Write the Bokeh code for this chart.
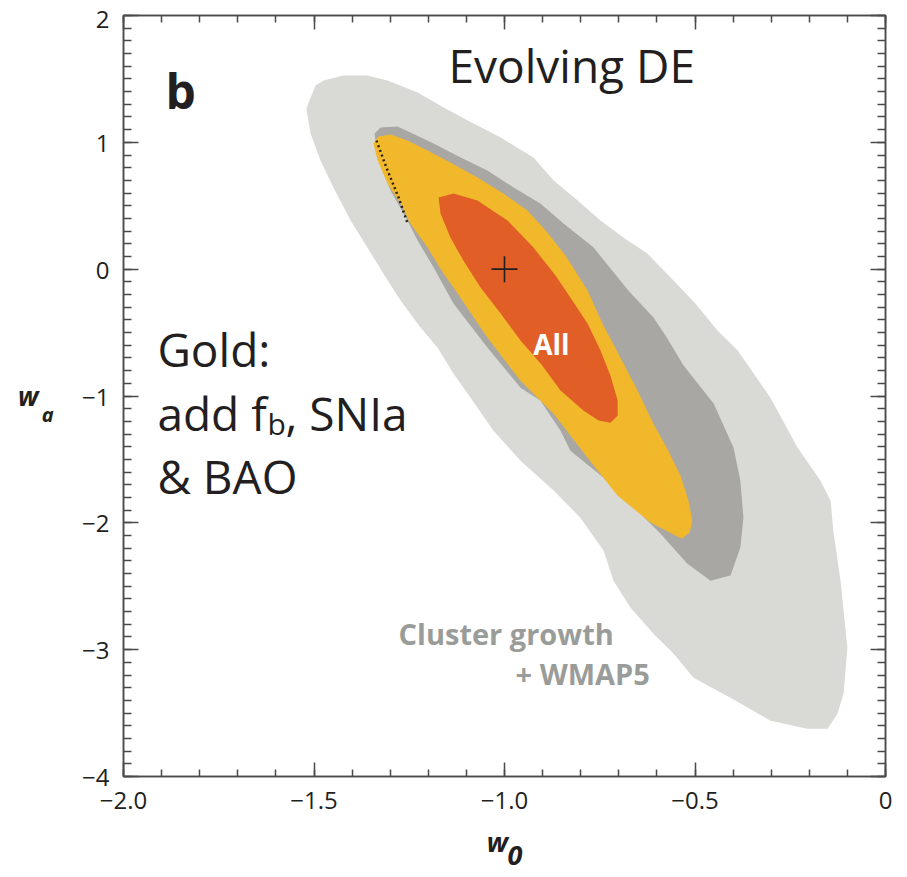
from bokeh.plotting import figure
from bokeh.models import Range1d, FixedTicker, LinearAxis, Label
from bokeh.embed import file_html
from bokeh.resources import INLINE
import numpy as np

# ---------------- data (w0, wa) ----------------
# Cluster growth + WMAP5, outer (95%) contour
cg95_w0 = [-1.520, -1.496, -1.475, -1.423, -1.360, -1.307, -1.228, -1.160, -1.081, -1.010,
           -0.924, -0.871, -0.808, -0.748, -0.688, -0.625, -0.564, -0.499, -0.441, -0.388,
           -0.346, -0.302, -0.231, -0.171, -0.144, -0.137, -0.118, -0.100, -0.110, -0.126,
           -0.152, -0.205, -0.302, -0.407, -0.504, -0.556, -0.609, -0.669, -0.714, -0.740,
           -0.801, -0.871, -0.958, -1.029, -1.089, -1.134, -1.176, -1.220, -1.273, -1.318,
           -1.360, -1.404, -1.449, -1.483, -1.509]
cg95_wa = [1.267, 1.448, 1.487, 1.527, 1.527, 1.487, 1.393, 1.274, 1.148, 1.038,
           0.880, 0.699, 0.541, 0.383, 0.249, 0.123, -0.066, -0.271, -0.484, -0.642,
           -0.823, -1.013, -1.407, -1.667, -1.825, -2.062, -2.456, -2.984, -3.347, -3.505,
           -3.623, -3.623, -3.560, -3.379, -3.221, -3.032, -2.874, -2.669, -2.456, -2.219,
           -1.959, -1.746, -1.510, -1.273, -1.013, -0.823, -0.618, -0.461, -0.248, -0.035,
           0.170, 0.383, 0.644, 0.856, 1.069]

# Cluster growth + WMAP5, inner (68%) contour
cg68_w0 = [-1.341, -1.325, -1.281, -1.247, -1.186, -1.115, -1.045, -0.976, -0.906, -0.845,
           -0.766, -0.675, -0.609, -0.577, -0.530, -0.451, -0.399, -0.381, -0.373, -0.381,
           -0.407, -0.459, -0.520, -0.591, -0.651, -0.740, -0.827, -0.853, -0.906, -0.958,
           -1.045, -1.134, -1.186, -1.228, -1.255, -1.299, -1.331]
cg68_wa = [1.069, 1.117, 1.125, 1.077, 0.991, 0.880, 0.778, 0.644, 0.517, 0.360,
           0.170, -0.169, -0.382, -0.524, -0.760, -1.060, -1.407, -1.667, -1.959, -2.196,
           -2.416, -2.456, -2.322, -2.085, -1.904, -1.644, -1.431, -1.273, -1.036, -0.934,
           -0.618, -0.271, 0.013, 0.226, 0.383, 0.620, 0.856]

# All data combined, outer (95%) contour
all95_w0 = [-1.344, -1.331, -1.299, -1.255, -1.202, -1.142, -1.071, -1.003, -0.940, -0.892,
            -0.840, -0.782, -0.743, -0.696, -0.651, -0.609, -0.570, -0.538, -0.517, -0.507,
            -0.514, -0.535, -0.617, -0.703, -0.782, -0.871, -0.958, -1.045, -1.123, -1.160,
            -1.202, -1.247, -1.273, -1.307, -1.333]
all95_wa = [0.991, 1.046, 1.062, 1.014, 0.935, 0.841, 0.722, 0.596, 0.462, 0.304,
            0.107, -0.169, -0.429, -0.697, -0.957, -1.218, -1.431, -1.628, -1.825, -1.983,
            -2.077, -2.125, -1.998, -1.786, -1.486, -1.139, -0.879, -0.539, -0.192, -0.035,
            0.170, 0.360, 0.517, 0.675, 0.856]

# All data combined, inner (68%) contour
all68_w0 = [-1.173, -1.134, -1.071, -0.992, -0.924, -0.866, -0.822, -0.782, -0.748, -0.722,
            -0.703, -0.703, -0.722, -0.753, -0.793, -0.853, -0.903, -0.958, -1.010, -1.063,
            -1.108, -1.142, -1.168]
all68_wa = [0.565, 0.596, 0.541, 0.383, 0.170, -0.050, -0.248, -0.429, -0.642, -0.839,
            -1.036, -1.155, -1.210, -1.194, -1.115, -0.957, -0.752, -0.563, -0.350, -0.145,
            0.068, 0.249, 0.438]

# dotted boundary near the upper tip
dot_w0 = [-1.336, -1.310, -1.278, -1.255]
dot_wa = [1.014, 0.801, 0.565, 0.367]

# fiducial cosmological constant point
fid_w0 = [-1.0]
fid_wa = [0.0]

x_ticks = [-2.0, -1.5, -1.0, -0.5, 0.0]
x_tick_labels = ["\u22122.0", "\u22121.5", "\u22121.0", "\u22120.5", "0"]
y_ticks = [2, 1, 0, -1, -2, -3, -4]
y_tick_labels = ["\n2", "1", "0", "\u22121", "\u22122", "\u22123", "\u22124"]
x_title = ("w", "0")   # w with subscript 0
y_title = ("w", "a")   # w with subscript a

# ---------------- style ----------------
C_LG = "#d9dad6"
C_DG = "#a8a7a3"
C_YEL = "#f2b82b"
C_ORA = "#e15e27"
C_TXT = "#231f20"
C_AX = "#4a4a4c"
C_GRAYTXT = "#9a9c99"
FONT = "Open Sans"
NB = "\u00a0"

p = figure(width=907, height=877, output_backend="svg", toolbar_location=None,
           x_range=Range1d(-2.0, 0.0), y_range=Range1d(-4.0, 2.0),
           x_axis_location=None, y_axis_location=None,
           min_border_left=123, min_border_right=22, min_border_top=15, min_border_bottom=101)
p.background_fill_color = "white"
p.border_fill_color = "white"
p.outline_line_color = C_AX
p.outline_line_width = 1.5
p.xgrid.visible = False
p.ygrid.visible = False

x_minor = [round(v, 1) for v in np.arange(-2.0, 0.001, 0.1)]
y_minor = [round(v, 1) for v in np.arange(-4.0, 2.001, 0.1)]
xt = FixedTicker(ticks=x_ticks, minor_ticks=x_minor)
yt = FixedTicker(ticks=y_ticks, minor_ticks=y_minor)


def style_axis(ax, major_len, minor_len, labels):
    ax.axis_line_color = C_AX
    ax.axis_line_width = 1.5
    ax.major_tick_line_color = C_AX
    ax.major_tick_line_width = 1.5
    ax.minor_tick_line_color = C_AX
    ax.minor_tick_line_width = 1.5
    ax.major_tick_in = major_len
    ax.major_tick_out = 0
    ax.minor_tick_in = minor_len
    ax.minor_tick_out = 0
    if labels:
        ax.major_label_text_font = FONT
        ax.major_label_text_font_size = "24px"
        ax.major_label_text_color = C_TXT
    else:
        ax.major_label_text_font_size = "0px"
        ax.major_label_text_color = None
        ax.major_label_standoff = 0


def title_axis(text, size, standoff, line_height, orientation=None):
    ax = LinearAxis(ticker=FixedTicker(ticks=[]), axis_label=text)
    ax.axis_line_color = None
    ax.major_tick_line_color = None
    ax.minor_tick_line_color = None
    ax.major_tick_in = 0
    ax.major_tick_out = 0
    ax.minor_tick_in = 0
    ax.minor_tick_out = 0
    ax.major_label_text_font_size = "0px"
    ax.major_label_standoff = 0
    ax.axis_label_text_font = "Noto Sans"
    ax.axis_label_text_font_size = size
    ax.axis_label_text_font_style = "bold italic"
    ax.axis_label_text_color = C_TXT
    ax.axis_label_text_line_height = line_height
    ax.axis_label_standoff = standoff
    if orientation is not None:
        ax.axis_label_orientation = orientation
    return ax


bottom = LinearAxis(ticker=xt, major_label_overrides=dict(zip(x_ticks, x_tick_labels)))
style_axis(bottom, 14, 7, True)
bottom.major_label_standoff = 15
top = LinearAxis(ticker=xt)
style_axis(top, 14, 7, False)
left = LinearAxis(ticker=yt, major_label_overrides=dict(zip(y_ticks, y_tick_labels)))
style_axis(left, 15, 8, True)
left.major_label_standoff = 14
left.major_label_text_line_height = 0.05
right = LinearAxis(ticker=yt)
style_axis(right, 15, 8, False)

p.add_layout(bottom, "below")
# w0 title: "w" then a lowered, shifted "0" on a tightly spaced second line
p.add_layout(title_axis(x_title[0] + NB + NB + "\n" + NB + NB + NB + x_title[1],
                        "27px", 11, 0.37), "below")
p.add_layout(top, "above")
p.add_layout(left, "left")
# wa title: subscript "a" nearest the axis, lowered via a blank first line
p.add_layout(title_axis(NB + "\n" + y_title[1], "20px", 26, 1.4, "horizontal"), "left")
p.add_layout(title_axis(y_title[0], "26px", 0, 1.0, "horizontal"), "left")
p.add_layout(right, "right")

# ---------------- contours ----------------
p.patch(cg95_w0, cg95_wa, fill_color=C_LG, line_color=None)
p.patch(cg68_w0, cg68_wa, fill_color=C_DG, line_color=None)
p.patch(all95_w0, all95_wa, fill_color=C_YEL, line_color=None)
p.patch(all68_w0, all68_wa, fill_color=C_ORA, line_color=None)
p.line(dot_w0, dot_wa, line_color="#2b2110", line_width=2.5, line_dash="2 3")
p.scatter(fid_w0, fid_wa, marker="cross", size=26, line_color=C_TXT, line_width=1.6)

# ---------------- texts ----------------
def lab(x, y, text, size, color=C_TXT, style="normal", align="left"):
    p.add_layout(Label(x=x, y=y, text=text, text_font=FONT, text_font_size=size,
                       text_color=color, text_font_style=style, text_align=align,
                       text_baseline="alphabetic"))

lab(-1.890, 1.409, "b", "48px", style="bold")
lab(-1.147, 1.606, "Evolving DE", "46px")
lab(-1.911, -0.626, "Gold:", "46px")
lab(-1.911, -1.131, "add f", "46px")
lab(-1.622, -1.218, "b", "30px")
lab(-1.575, -1.131, ", SNIa", "46px")
lab(-1.911, -1.628, "& BAO", "46px")
lab(-0.877, -0.587, "All", "28px", color="white", style="bold", align="center")
lab(-1.278, -2.874, "Cluster growth", "29px", color=C_GRAYTXT, style="bold")
lab(-0.971, -3.189, "+ WMAP5", "29px", color=C_GRAYTXT, style="bold")

open("out.html", "w").write(file_html(p, INLINE))
